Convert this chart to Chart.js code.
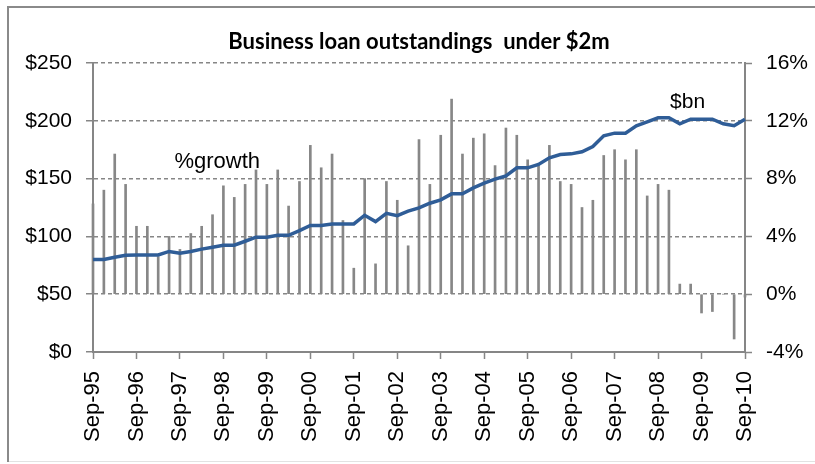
<!DOCTYPE html>
<html>
<head>
<meta charset="utf-8">
<title>Business loan outstandings under $2m</title>
<script src="https://cdn.jsdelivr.net/npm/chart.js@4/dist/chart.umd.min.js"></script>
<style>
  html, body { margin: 0; padding: 0; background: #fff; }
  #wrap { width: 815px; height: 464px; position: relative; }
</style>
</head>
<body>
<div id="wrap"><canvas id="loanChart" width="815" height="464"></canvas></div>
<script>
const years = ["95", "96", "97", "98", "99", "00", "01", "02", "03", "04", "05", "06", "07", "08", "09", "10"];
const months = ["Sep", "Dec", "Mar", "Jun"];

// quarterly categories, Sep-95 .. Sep-10
const quarters = [];
years.forEach((y, i) => {
  months.forEach((m, j) => {
    const yr = j === 0 || j === 1 ? y : years[i + 1];
    if (yr && quarters.length < 61) quarters.push(`${m}-${yr}`);
  });
});

// annual growth, %
const growth = [
  6.25, 7.2, 9.7, 7.6, 4.7, 4.7, 2.6, 4.0, 3.1, 4.2,
  4.7, 5.5, 7.5, 6.7, 7.6, 8.6, 7.6, 8.6, 6.1, 7.8,
  10.3, 8.75, 9.7, 5.1, 1.8, 8.0, 2.1, 7.8, 6.5, 3.35,
  10.7, 7.6, 11.0, 13.5, 9.7, 10.8, 11.1, 8.9, 11.5, 11.0,
  9.3, 8.9, 10.3, 7.8, 7.6, 6.0, 6.5, 9.6, 10.0, 9.3,
  10.0, 6.8, 7.6, 7.2, 0.7, 0.7, -1.3, -1.2, 0, -3.1, -0.2
];

// outstandings, $bn
const outstandings = [
  80, 80, 82, 83.7, 84, 84, 84, 87, 85.5, 87,
  89, 90.6, 92.4, 92.4, 95.8, 99.3, 99.3, 101, 101, 105,
  109.5, 109.5, 110.8, 110.8, 110.8, 118.3, 112.8, 120, 118, 121.8,
  124.7, 128.7, 131.6, 136.8, 136.8, 142, 146, 149.5, 152.4, 159.3,
  159.3, 162.2, 168, 170.8, 171.4, 173.2, 177.8, 187, 189.3, 189.3,
  195.7, 199.1, 202.6, 202.6, 197.4, 201.4, 201.4, 201.4, 197.4, 195.7, 201.4
];

const title = "Business loan outstandings  under $2m";
const axisGrey = "#868686";
const sans = "'Liberation Sans', Arial, sans-serif";

// frame, title and the two series captions
const decorations = {
  id: "decorations",
  beforeDraw(chart) {
    const ctx = chart.ctx;
    ctx.save();
    ctx.fillStyle = "#fff";
    ctx.fillRect(0, 0, chart.width, chart.height);
    ctx.strokeStyle = "#8a8a8a";
    ctx.lineWidth = 2;
    ctx.beginPath();
    ctx.moveTo(8, 462);
    ctx.lineTo(8, 7);
    ctx.lineTo(chart.width, 7);
    ctx.stroke();
    ctx.strokeStyle = "#e2e2e2";
    ctx.lineWidth = 1;
    ctx.beginPath();
    ctx.moveTo(9, 461.5);
    ctx.lineTo(chart.width, 461.5);
    ctx.stroke();
    ctx.restore();
  },
  afterDraw(chart) {
    const { ctx, chartArea, scales } = chart;
    ctx.save();
    ctx.fillStyle = "#000";
    ctx.textBaseline = "alphabetic";
    ctx.font = "bold 22px Lato, 'Liberation Sans', sans-serif";
    ctx.textAlign = "center";
    ctx.fillText(title, (chartArea.left + chartArea.right) / 2, 49);

    ctx.font = "22px " + sans;
    ctx.textAlign = "left";
    ctx.fillText("%growth", scales.x.getPixelForValue(7.5), scales.y1.getPixelForValue(8.75));
    ctx.font = "21px " + sans;
    ctx.fillText("$bn", scales.x.getPixelForValue(53.1), scales.y.getPixelForValue(211));
    ctx.restore();
  }
};

new Chart(document.getElementById("loanChart"), {
  type: "bar",
  data: {
    labels: quarters,
    datasets: [
      {
        type: "line",
        label: "$bn",
        data: outstandings,
        yAxisID: "y",
        borderColor: "#2F5D97",
        borderWidth: 3.5,
        pointRadius: 0,
        tension: 0,
        order: 0
      },
      {
        label: "%growth",
        data: growth,
        yAxisID: "y1",
        backgroundColor: "#878787",
        barThickness: 2,
        clip: 3,
        order: 1
      }
    ]
  },
  options: {
    responsive: false,
    animation: false,
    layout: { padding: { top: 63, left: 0, right: 0, bottom: 0 } },
    plugins: {
      legend: { display: false },
      title: { display: false },
      tooltip: { enabled: false }
    },
    scales: {
      x: {
        type: "category",
        offset: false,
        grid: {
          offset: false,
          drawOnChartArea: false,
          drawTicks: true,
          tickLength: 7,
          tickColor: axisGrey,
          tickWidth: 1.5
        },
        border: { color: axisGrey, width: 2 },
        ticks: {
          autoSkip: false,
          maxRotation: 90,
          minRotation: 90,
          padding: 12,
          color: "#000",
          font: { family: sans, size: 22 },
          callback: (v, i) => (i % 4 === 0 ? quarters[i] : null)
        },
        afterFit: (scale) => { scale.height = 112; }
      },
      y: {
        position: "left",
        min: 0,
        max: 250,
        grid: {
          color: axisGrey,
          lineWidth: 1.5,
          tickLength: 7,
          tickColor: axisGrey,
          tickWidth: 1.5
        },
        border: { color: axisGrey, width: 2, dash: [4, 3] },
        ticks: {
          stepSize: 50,
          padding: 14,
          color: "#000",
          font: { family: sans, size: 21 },
          callback: (v) => "$" + v
        },
        afterFit: (scale) => { scale.width = 93; }
      },
      y1: {
        position: "right",
        min: -4,
        max: 16,
        grid: {
          drawOnChartArea: false,
          tickLength: 7,
          tickColor: axisGrey,
          tickWidth: 1.5
        },
        border: { color: axisGrey, width: 2 },
        ticks: {
          stepSize: 4,
          padding: 14,
          color: "#000",
          font: { family: sans, size: 21 },
          callback: (v) => v + "%"
        },
        afterFit: (scale) => { scale.width = 70; }
      }
    }
  },
  plugins: [decorations]
});
</script>
</body>
</html>
